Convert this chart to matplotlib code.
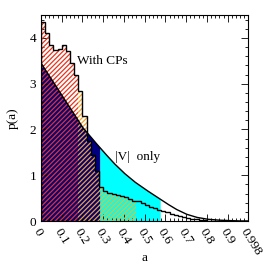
import numpy as np
import matplotlib
matplotlib.use('Agg')
import matplotlib.pyplot as plt

# |V| only: smooth curve p(a)
a_v = [0.0, 0.05, 0.1, 0.15, 0.2, 0.25, 0.3, 0.35, 0.4, 0.45, 0.5, 0.55,
       0.6, 0.65, 0.7, 0.75, 0.8, 0.85, 0.9, 0.95, 0.998]
p_v = [3.45, 3.1, 2.75, 2.4, 2.05, 1.78, 1.52, 1.27, 1.05, 0.86, 0.7, 0.55,
       0.4, 0.26, 0.15, 0.08, 0.04, 0.02, 0.01, 0.0, 0.0]

# With CPs: step histogram, bin width 0.02
cp_edges = np.round(np.arange(0, 1.0001, 0.02), 2)
cp_vals = [4.35, 4.1, 3.85, 3.74, 3.76, 3.84, 3.72, 3.45, 3.2, 2.85,
           2.3, 1.75, 1.45, 1.1, 0.75, 0.66, 0.62, 0.6, 0.57, 0.55,
           0.52, 0.48, 0.44, 0.43, 0.39, 0.35, 0.31, 0.28, 0.25, 0.22,
           0.19, 0.16, 0.13, 0.11, 0.09, 0.07, 0.05, 0.04, 0.03, 0.02,
           0.01, 0.0, 0.0, 0.0, 0.0, 0.0, 0.0, 0.0, 0.0, 0.0]

xticks = [0, 0.1, 0.2, 0.3, 0.4, 0.5, 0.6, 0.7, 0.8, 0.9, 0.998]
xticklabels = ['0', '0.1', '0.2', '0.3', '0.4', '0.5', '0.6', '0.7', '0.8', '0.9', '0.998']

plt.rcParams['font.family'] = 'Liberation Serif'
plt.rcParams['hatch.linewidth'] = 0.9

fig = plt.figure(figsize=(2.66, 2.66), dpi=100)
ax = fig.add_axes([41/266, 45/266, 207/266, 206/266])

xs = np.linspace(0, 0.998, 800)
ys = np.interp(xs, a_v, p_v)
ax.fill_between(xs, ys, where=xs <= 0.285, color='#000080', lw=0, zorder=1)
ax.fill_between(xs, ys, where=(xs >= 0.283) & (xs <= 0.575), color='#00ffff', lw=0, zorder=1)


def cp_part(i0, i1, col):
    x = cp_edges[i0:i1 + 1]
    y = list(cp_vals[i0:i1]) + [cp_vals[i1 - 1]]
    ax.fill_between(x, y, step='post', facecolor='none', edgecolor=col,
                    hatch='///////', lw=0, zorder=2)


cp_part(0, 9, '#e8341c')
cp_part(9, 14, '#f5a020')
cp_part(14, 23, '#e8c020')

ax.plot(xs, ys, color='black', lw=1.0, zorder=3)
ax.stairs(cp_vals, cp_edges, color='black', lw=1.0, zorder=3)

ax.text(0.174, 3.5, 'With CPs', fontsize=9.5, va='center', ha='left')
ax.text(0.357, 1.4, '|V|  only', fontsize=9.5, va='center', ha='left')

ax.set_xlim(0, 0.998)
ax.set_ylim(0, 4.5)
ax.set_xticks(xticks)
ax.set_xticklabels(xticklabels, rotation=-58, ha='left', va='top', rotation_mode='anchor')
ax.set_xticks(np.arange(0, 0.998, 0.02), minor=True)
ax.set_yticks([0, 1, 2, 3, 4])
ax.set_yticks(np.arange(0, 4.5, 0.2), minor=True)
ax.tick_params(which='both', direction='in', top=True, right=True, labelsize=9.5, width=0.6)
ax.tick_params(which='major', length=5)
ax.tick_params(which='minor', length=2.5)
ax.tick_params(axis='x', pad=4)
for s in ax.spines.values():
    s.set_linewidth(0.8)
    s.set_zorder(4)

fig.text(145/266, 1 - 258/266, 'a', fontsize=9.5, ha='center', va='center')
ax.set_ylabel('p(a)', fontsize=9.5, labelpad=8)

fig.savefig('out.png', dpi=100)
